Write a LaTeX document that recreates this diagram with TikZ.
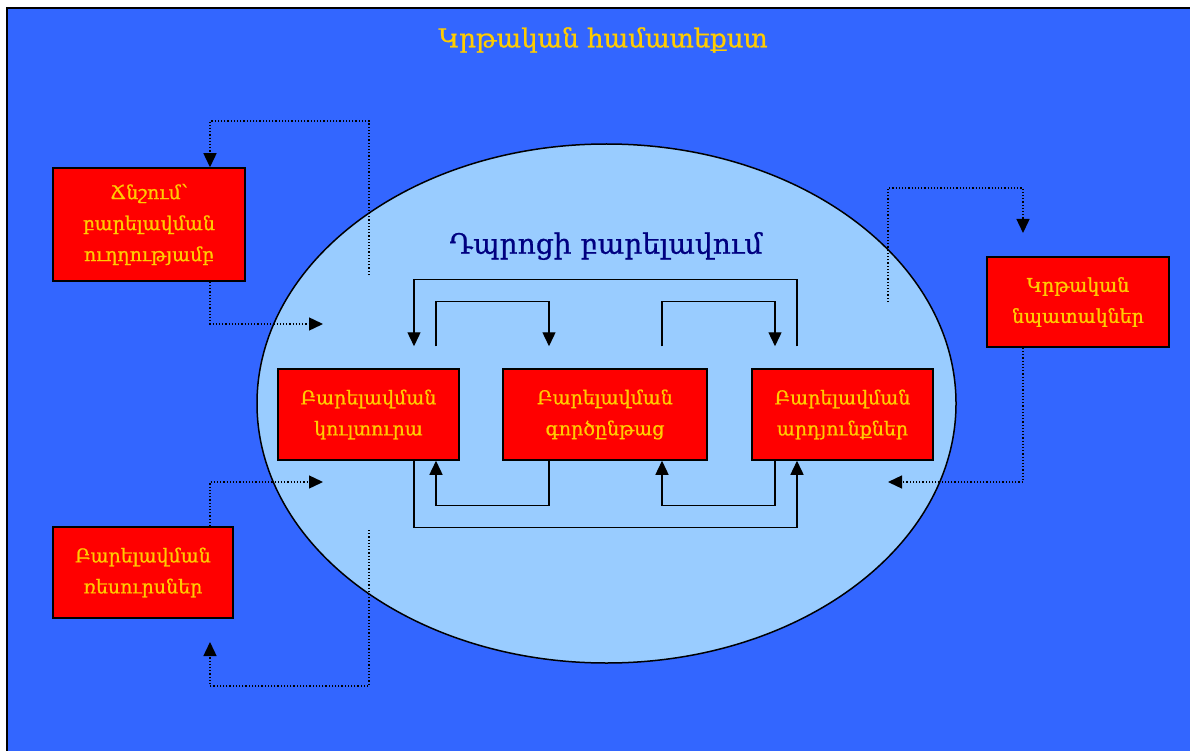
\documentclass[tikz,border=0pt]{standalone}
\usepackage{fontspec}
\setmainfont{DejaVu Serif}
\newfontfamily\heavyserif[FakeBold=0.8]{DejaVu Serif}
\usetikzlibrary{arrows.meta,shapes.geometric}
\definecolor{bgblue}{HTML}{3366FF}
\definecolor{ovalblue}{HTML}{99CCFF}
\definecolor{gold}{HTML}{FFCC00}
\definecolor{navyblue}{HTML}{000080}
\begin{document}
\begin{tikzpicture}[x=1pt,y=-1pt,
  box/.style={draw=black, line width=1.5pt, fill=red, text=gold, align=center,
    inner sep=0pt, font=\heavyserif\fontsize{19}{31}\selectfont},
  flow/.style={draw=black, line width=1.4pt, -{Triangle[length=14pt,width=13pt]}},
  link/.style={draw=black, line width=1.4pt, dash pattern=on 1.2pt off 2pt,
    -{Triangle[length=14pt,width=13pt]}}]
\useasboundingbox (0,0) rectangle (1190,751);
\fill[white] (0,0) rectangle (1190,751);
% outer frame
\draw[fill=bgblue, line width=1.5pt] (7,8) rectangle (1200,765);
\node[text=gold, font=\heavyserif\fontsize{26}{30}\selectfont] (title) at (603,40) {Կրթական համատեքստ};

% school improvement oval
\node[ellipse, draw=black, line width=1.5pt, fill=ovalblue, inner sep=0pt,
  minimum width=699pt, minimum height=519pt] (oval) at (606.5,403.5) {};
\node[text=navyblue, font=\heavyserif\fontsize{28}{32}\selectfont] (ovaltitle) at (606,246) {Դպրոցի բարելավում};

% boxes
\node[box, minimum width=192pt, minimum height=113pt] (press) at (149,224.5)
  {Ճնշում՝\\բարելավման\\ուղղությամբ};
\node[box, minimum width=180pt, minimum height=91pt] (resrc) at (143,572.5)
  {Բարելավման\\ռեսուրսներ};
\node[box, minimum width=182pt, minimum height=90pt] (goals) at (1078,302)
  {Կրթական\\նպատակներ};
\node[box, minimum width=181pt, minimum height=91pt] (cult) at (368.5,414.5)
  {Բարելավման\\կուլտուրա};
\node[box, minimum width=204pt, minimum height=91pt] (proc) at (605,414.5)
  {Բարելավման\\գործընթաց};
\node[box, minimum width=181pt, minimum height=91pt] (res) at (842.5,414.5)
  {Բարելավման\\արդյունքներ};

% feedback loops inside the oval
\draw[flow] ([xshift=-45.5pt,yshift=22pt]res.north) -- ++(0,-67)
  -| ([xshift=45.5pt,yshift=22pt]cult.north);
\draw[flow] ([xshift=67.5pt,yshift=22pt]cult.north) -- ++(0,-45)
  -| ([xshift=-56pt,yshift=22pt]proc.north);
\draw[flow] ([xshift=57pt,yshift=22pt]proc.north) -- ++(0,-45)
  -| ([xshift=-67.5pt,yshift=22pt]res.north);
\draw[flow] ([xshift=-56pt]proc.south) -- ++(0,45) -| ([xshift=67.5pt]cult.south);
\draw[flow] ([xshift=-67.5pt]res.south) -- ++(0,45) -| ([xshift=57pt]proc.south);
\draw[flow] ([xshift=45.5pt]cult.south) -- ++(0,67) -| ([xshift=-45.5pt]res.south);

% context links
\coordinate (pressin) at (369,275);
\coordinate (pressout) at (323,324);
\coordinate (resin) at (369,530);
\coordinate (resout) at (323,482);
\coordinate (goalsin) at (888,302);
\coordinate (goalsout) at (888,482);
\coordinate (goalsend) at (1023,233);

\draw[link] (pressin) -- (369,121) -| (press.north -| 210,0);
\draw[link] (press.south -| 210,0) |- (pressout);
\draw[link] (resrc.north -| 210,0) |- (resout);
\draw[link] (resin) -- (369,686) -| (210,642);
\draw[link] (goalsin) -- (888,188) -| (goalsend);
\draw[link] (goals.south -| goalsend) |- (goalsout);
\end{tikzpicture}
\end{document}
